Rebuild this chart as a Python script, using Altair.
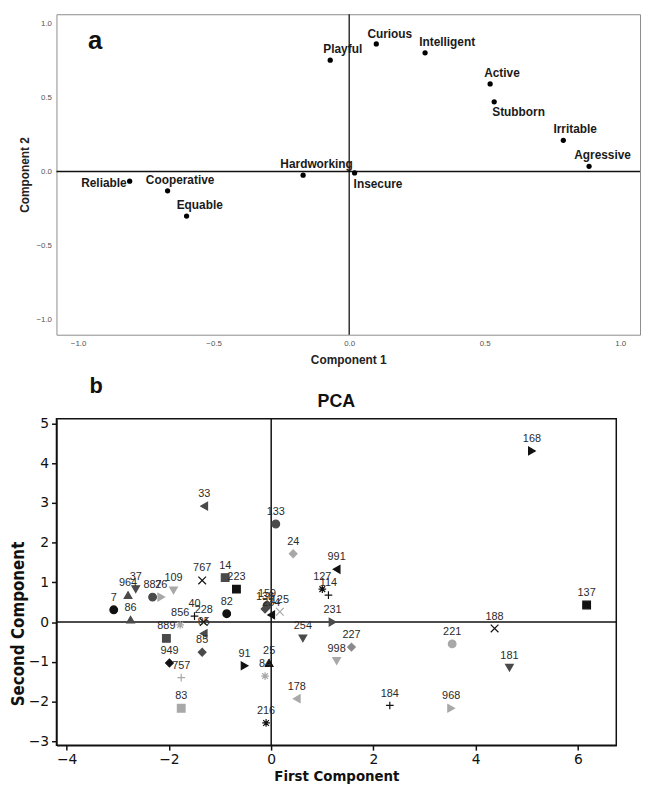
import altair as alt
import pandas as pd

# ---------------- panel a : component loadings ----------------
traits = ["Curious", "Intelligent", "Playful", "Active", "Stubborn", "Irritable",
          "Agressive", "Hardworking", "Insecure", "Reliable", "Cooperative", "Equable"]
comp1 = [0.10, 0.28, -0.07, 0.52, 0.535, 0.79, 0.885, -0.17, 0.02, -0.81, -0.67, -0.60]
comp2 = [0.86, 0.80, 0.75, 0.59, 0.47, 0.21, 0.035, -0.025, -0.01, -0.065, -0.13, -0.30]
a_ticks = [-1.0, -0.5, 0.0, 0.5, 1.0]

# ---------------- panel b : PCA scores ----------------
ids = ["168", "137", "188", "181", "221", "968", "184", "227", "998", "231", "254", "178",
       "216", "991", "127", "114", "24", "133", "33", "159", "138", "234", "125", "7", "86",
       "964", "37", "887", "26", "109", "767", "14", "223", "82", "856", "40", "228", "95",
       "889", "85", "949", "757", "91", "25", "84", "83"]
pc1 = [5.10, 6.17, 4.37, 4.66, 3.54, 3.52, 2.32, 1.57, 1.28, 1.20, 0.62, 0.50,
       -0.10, 1.28, 1.00, 1.12, 0.43, 0.09, -1.31, -0.08, -0.12, 0.00, 0.17, -3.08, -2.75,
       -2.80, -2.65, -2.32, -2.15, -1.91, -1.35, -0.90, -0.68, -0.87, -1.78, -1.50, -1.32, -1.32,
       -2.05, -1.35, -1.99, -1.76, -0.52, -0.04, -0.12, -1.76]
pc2 = [4.31, 0.43, -0.16, -1.15, -0.55, -2.17, -2.10, -0.63, -0.98, 0.00, -0.41, -1.93,
       -2.54, 1.33, 0.83, 0.68, 1.72, 2.47, 2.92, 0.42, 0.33, 0.18, 0.26, 0.31, 0.06,
       0.68, 0.83, 0.63, 0.63, 0.80, 1.05, 1.12, 0.83, 0.21, -0.07, 0.15, 0.00, -0.29,
       -0.41, -0.76, -1.03, -1.40, -1.10, -1.03, -1.36, -2.17]
symbol = ["tri-right", "square", "x", "tri-down", "circle", "tri-right", "plus", "diamond",
          "tri-down", "tri-right", "tri-down", "tri-left", "asterisk", "tri-left", "asterisk",
          "plus", "diamond", "circle", "tri-left", "circle", "diamond", "tri-left", "x",
          "circle", "tri-up", "tri-up", "tri-down", "circle", "tri-right", "tri-down", "x",
          "square", "square", "circle", "asterisk", "plus", "x", "tri-left", "square",
          "diamond", "diamond", "plus", "tri-right", "tri-up", "asterisk", "square"]
tone = ["black", "black", "black", "dark", "light", "light", "black", "mid",
        "light", "dark", "dark", "light", "black", "black", "black",
        "black", "light", "dark", "dark", "dark", "dark", "black", "light",
        "black", "dark", "dark", "dark", "dark", "light", "light", "black",
        "dark", "black", "black", "light", "black", "black", "dark", "dark",
        "dark", "black", "light", "black", "black", "light", "light"]
b_xticks = [-4, -2, 0, 2, 4, 6]
b_yticks = [-3, -2, -1, 0, 1, 2, 3, 4, 5]
panel_letters = ["a", "b"]
panel_b_title = ["PCA"]

# ---------------- styles ----------------
X_PATH = "M-1,-1L1,1M-1,1L1,-1"
PLUS_PATH = "M-1,0L1,0M0,-1L0,1"
AST_PATH = "M-1,0L1,0M0,-1L0,1M-0.75,-0.75L0.75,0.75M-0.75,0.75L0.75,-0.75"
sym_domain = ["circle", "square", "diamond", "tri-up", "tri-down", "tri-left", "tri-right",
              "x", "plus", "asterisk"]
sym_range = ["circle", "square", "diamond", "triangle-up", "triangle-down", "triangle-left",
             "triangle-right", X_PATH, PLUS_PATH, AST_PATH]
tone_domain = ["black", "dark", "mid", "light"]
tone_range = ["#111111", "#4a4a4a", "#8a8a8a", "#a8a8a8"]

# label placement for panel a: (align, dx, dy)
label_place = {
    "Curious": ("left", -9, -10), "Intelligent": ("left", -6, -11),
    "Playful": ("left", -7, -11), "Active": ("left", -6, -11),
    "Stubborn": ("left", -2, 10), "Irritable": ("left", -10, -11),
    "Agressive": ("left", -15, -11), "Hardworking": ("left", -23, -11),
    "Insecure": ("left", -1, 11), "Reliable": ("right", -3, 2),
    "Cooperative": ("left", -22, -11), "Equable": ("left", -10, -11),
}

# ================= panel a =================
dfa = pd.DataFrame({"trait": traits, "c1": comp1, "c2": comp2})
xs_a = alt.Scale(domain=[-1.080, 1.073], nice=False, zero=False)
ys_a = alt.Scale(domain=[-1.1, 1.06], nice=False, zero=False)

xa = alt.X("c1:Q", scale=xs_a, title="Component 1",
           axis=alt.Axis(values=a_ticks, format=".1f", grid=False, ticks=False, domain=False,
                         labelFontSize=8, labelColor="#555555", labelPadding=5,
                         titleFontSize=12, titleFontWeight="bold", titleColor="#222222",
                         titlePadding=7, labelFont="Liberation Sans", titleFont="Liberation Sans"))
ya = alt.Y("c2:Q", scale=ys_a, title="Component 2",
           axis=alt.Axis(values=a_ticks, format=".1f", grid=False, ticks=False, domain=False,
                         labelFontSize=8, labelColor="#555555", labelPadding=5,
                         titleFontSize=12, titleFontWeight="bold", titleColor="#222222",
                         titleX=-32, titleBaseline="middle",
                         labelFont="Liberation Sans", titleFont="Liberation Sans"))

base_a = alt.Chart(dfa)
zero_a = pd.DataFrame({"c1": [0.0], "c2": [0.0]})
vline_a = alt.Chart(zero_a).mark_rule(color="#111111", strokeWidth=1.3).encode(
    x=alt.X("c1:Q", scale=xs_a))
hline_a = alt.Chart(zero_a).mark_rule(color="#111111", strokeWidth=1.3).encode(
    y=alt.Y("c2:Q", scale=ys_a))
pts_a = base_a.mark_point(filled=True, shape="circle", size=28, color="#000000",
                          opacity=1).encode(x=xa, y=ya)

lab_layers = []
for t in traits:
    al, dx, dy = label_place[t]
    lab_layers.append(
        base_a.transform_filter(alt.datum.trait == t).mark_text(
            align=al, baseline="middle", dx=dx, dy=dy, fontSize=12, fontWeight="bold",
            font="Liberation Sans", color="#1a1a1a"
        ).encode(x=alt.X("c1:Q", scale=xs_a), y=alt.Y("c2:Q", scale=ys_a), text="trait:N"))

letter_a = alt.Chart(pd.DataFrame({"t": [panel_letters[0]]})).mark_text(
    fontSize=26, fontWeight="bold", font="Liberation Sans", color="#111111",
    baseline="middle", align="center").encode(
    x=alt.value(39), y=alt.value(27), text="t:N")

panel_a = alt.layer(hline_a, vline_a, pts_a, *lab_layers, letter_a).properties(
    width=590, height=324,
    view=alt.ViewBackground(stroke="#8c8c8c", strokeWidth=1))

# ================= panel b =================
dfb = pd.DataFrame({"id": ids, "pc1": pc1, "pc2": pc2, "symbol": symbol, "tone": tone})
xs_b = alt.Scale(domain=[-4.2, 6.75], nice=False, zero=False)
ys_b = alt.Scale(domain=[-3.1, 5.12], nice=False, zero=False)

xb = alt.X("pc1:Q", scale=xs_b, title="First Component",
           axis=alt.Axis(values=b_xticks, grid=False, domainColor="#111111", domainWidth=1.5,
                         tickColor="#111111", tickWidth=1.5, tickSize=5,
                         labelFont="DejaVu Sans", labelFontSize=14, labelColor="#111111",
                         labelPadding=3, titleFont="DejaVu Sans Condensed", titleFontSize=15,
                         titleFontWeight="bold", titleColor="#111111", titlePadding=2))
yb = alt.Y("pc2:Q", scale=ys_b, title="Second Component",
           axis=alt.Axis(values=b_yticks, grid=False, domainColor="#111111", domainWidth=1.5,
                         tickColor="#111111", tickWidth=1.5, tickSize=5,
                         labelFont="DejaVu Sans", labelFontSize=14, labelColor="#111111",
                         labelPadding=3, titleFont="DejaVu Sans Condensed", titleFontSize=17,
                         titleFontWeight="bold", titleColor="#111111", titlePadding=1,
                         titleY=207))

zero_b = pd.DataFrame({"pc1": [0.0], "pc2": [0.0]})
vline_b = alt.Chart(zero_b).mark_rule(color="#111111", strokeWidth=1.5).encode(
    x=alt.X("pc1:Q", scale=xs_b))
hline_b = alt.Chart(zero_b).mark_rule(color="#111111", strokeWidth=1.5).encode(
    y=alt.Y("pc2:Q", scale=ys_b))

pts_b = alt.Chart(dfb).mark_point(filled=True, size=60, strokeWidth=1.2, opacity=1).encode(
    x=xb, y=yb,
    shape=alt.Shape("symbol:N", scale=alt.Scale(domain=sym_domain, range=sym_range), legend=None),
    fill=alt.Fill("tone:N", scale=alt.Scale(domain=tone_domain, range=tone_range), legend=None),
    stroke=alt.Stroke("tone:N", scale=alt.Scale(domain=tone_domain, range=tone_range), legend=None),
)
labels_b = alt.Chart(dfb).mark_text(dy=-12, fontSize=11, font="Liberation Sans",
                                    color="#2a2a2a").encode(
    x=alt.X("pc1:Q", scale=xs_b), y=alt.Y("pc2:Q", scale=ys_b), text="id:N")

letter_b = alt.Chart(pd.DataFrame({"t": [panel_letters[1]]})).mark_text(
    fontSize=22, fontWeight="bold", font="Liberation Sans", color="#111111",
    baseline="middle", align="center").encode(
    x=alt.value(40), y=alt.value(-33), text="t:N")

title_b = alt.Chart(pd.DataFrame({"t": panel_b_title})).mark_text(
    fontSize=18, fontWeight="bold", font="Liberation Sans", color="#111111",
    baseline="middle", align="center").encode(
    x=alt.value(283), y=alt.value(-17), text="t:N")

panel_b = alt.layer(hline_b, vline_b, pts_b, labels_b, letter_b, title_b).properties(
    width=566, height=330,
    view=alt.ViewBackground(stroke="#111111", strokeWidth=1.5))

chart = alt.vconcat(panel_a, panel_b, spacing=8).resolve_scale(
    x="independent", y="independent", shape="independent", fill="independent",
    stroke="independent").properties(padding=0).configure(font="Liberation Sans")

chart.save("out.html", embed_options={"renderer": "svg", "actions": False})
